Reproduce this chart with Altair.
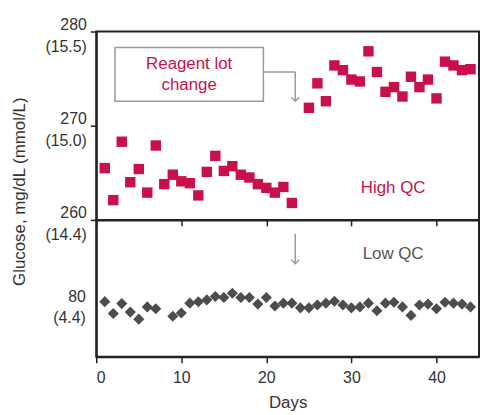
import altair as alt
import pandas as pd

# ---------------- data ----------------
high_days = [1, 2, 3, 4, 5, 6, 7, 8, 9, 10, 11, 12, 13, 14, 15, 16, 17, 18, 19, 20, 21, 22, 23,
             25, 26, 27, 28, 29, 30, 31, 32, 33, 34, 35, 36, 37, 38, 39, 40, 41, 42, 43, 44]
high_vals = [265.5, 262.1, 268.3, 264.0, 265.4, 262.9, 267.9, 263.8, 264.8, 264.1, 263.9, 262.6,
             265.1, 266.8, 265.2, 265.7, 264.8, 264.5, 263.8, 263.4, 262.9, 263.5, 261.8,
             271.9, 274.5, 272.6, 276.4, 275.9, 274.9, 274.7, 277.9, 275.7, 273.6, 274.1, 273.1,
             275.2, 274.1, 274.9, 272.9, 276.8, 276.4, 275.9, 276.0]

low_days = [1, 2, 3, 4, 5, 6, 7, 9, 10, 11, 12, 13, 14, 15, 16, 17, 18, 19, 20, 21, 22, 23, 24,
            25, 26, 27, 28, 29, 30, 31, 32, 33, 34, 35, 36, 37, 38, 39, 40, 41, 42, 43, 44]
low_vals = [80.16, 78.9, 79.95, 79.05, 78.3, 79.6, 79.4, 78.6, 78.95, 80.0, 80.15, 80.35, 80.7,
            80.6, 81.05, 80.6, 80.6, 79.9, 80.6, 79.7, 80.0, 80.0, 79.5, 79.5, 79.8, 80.0, 80.2,
            79.8, 79.5, 79.6, 80.0, 79.2, 80.0, 80.1, 79.6, 78.7, 79.8, 79.9, 79.4, 80.1, 80.0,
            79.9, 79.6]

x_ticks = [0, 10, 20, 30, 40]
high_ticks = [260, 270, 280]
high_mmol = ["14.4", "15.0", "15.5"]
low_ticks = [80]
low_mmol = ["4.4"]

x_domain = [0, 45]
high_domain = [260, 280]
low_domain = [74.3, 88.85]

lot_change_day = 23.4
box_days = [2.2, 19.65]
box_vals = [278.3, 272.6]

CRIMSON = "#C8104B"
DARK = "#4D4D4D"
GRAY = "#9A9A9A"
FONT = "Liberation Sans"


def label_expr(ticks, mmol):
    expr = "''"
    for t, m in reversed(list(zip(ticks, mmol))):
        expr = f"datum.value == {t} ? ['{t}', '({m})'] : {expr}"
    return expr


high_df = pd.DataFrame({"day": high_days, "value": high_vals})
low_df = pd.DataFrame({"day": low_days, "value": low_vals})

xs = alt.Scale(domain=x_domain, nice=False, zero=False)


def top_x(field="day"):
    return alt.X(f"{field}:Q", scale=xs,
                 axis=alt.Axis(values=x_ticks, labels=False, title=None, tickSize=6))


def top_y(field="value"):
    return alt.Y(f"{field}:Q", scale=alt.Scale(domain=high_domain, nice=False, zero=False),
                 axis=alt.Axis(values=high_ticks, labelExpr=label_expr(high_ticks, high_mmol),
                               title="Glucose, mg/dL (mmol/L)", titleX=-77, titleY=161,
                               titleBaseline="middle", titleAlign="center",
                               tickSize=6, labelOffset=-7, labelLineHeight=22))


def bot_x(field="day"):
    return alt.X(f"{field}:Q", scale=xs,
                 axis=alt.Axis(values=x_ticks, title="Days", tickSize=6, labelPadding=7,
                               titlePadding=9))


def bot_y(field="value"):
    return alt.Y(f"{field}:Q", scale=alt.Scale(domain=low_domain, nice=False, zero=False),
                 axis=alt.Axis(values=low_ticks, labelExpr=label_expr(low_ticks, low_mmol),
                               title=None, ticks=False, labelPadding=11, labelOffset=-7,
                               labelLineHeight=22))


# ---- top panel ----
top_pts = alt.Chart(high_df).mark_square(size=110, color=CRIMSON, opacity=1).encode(
    x=top_x(), y=top_y())

box_df = pd.DataFrame({"day": [box_days[0]], "day2": [box_days[1]],
                       "value": [box_vals[0]], "value2": [box_vals[1]]})
box = alt.Chart(box_df).mark_rect(fill="white", stroke=GRAY, strokeWidth=1.5).encode(
    x=top_x(), x2="day2", y=top_y(), y2="value2")

box_text_df = pd.DataFrame({"day": [(box_days[0] + box_days[1]) / 2],
                            "value": [276.5],
                            "label": ["Reagent lot\nchange"]})
box_text = alt.Chart(box_text_df).mark_text(
    lineBreak="\n", fontSize=17, font=FONT, color=CRIMSON, align="center",
    baseline="middle", lineHeight=21).encode(x=top_x(), y=top_y(), text="label")

conn_mid = 275.7
conn_tip = 272.6
hline_df = pd.DataFrame({"day": [box_days[1]], "day2": [lot_change_day], "value": [conn_mid]})
hline = alt.Chart(hline_df).mark_rule(color=GRAY, strokeWidth=1.5).encode(
    x=top_x(), x2="day2", y=top_y())
vline_df = pd.DataFrame({"day": [lot_change_day], "value": [conn_mid], "value2": [conn_tip]})
vline = alt.Chart(vline_df).mark_rule(color=GRAY, strokeWidth=1.5).encode(
    x=top_x(), y=top_y(), y2="value2")
head_df = pd.DataFrame({"day": [lot_change_day], "value": [conn_tip]})
head = alt.Chart(head_df).mark_point(shape="M-1,-1L0,0L1,-1", filled=False, stroke=GRAY,
                                      strokeWidth=1.5, size=64, opacity=1).encode(
    x=top_x(), y=top_y())

high_lbl_df = pd.DataFrame({"day": [34.9], "value": [263.4], "label": ["High QC"]})
high_lbl = alt.Chart(high_lbl_df).mark_text(fontSize=17, font=FONT, color=CRIMSON,
                                            align="center", baseline="middle").encode(
    x=top_x(), y=top_y(), text="label")

top = alt.layer(box, box_text, hline, vline, head, top_pts, high_lbl).properties(
    width=386, height=190)

# ---- bottom panel ----
low_pts = alt.Chart(low_df).mark_point(shape="diamond", filled=True, color=DARK, size=125,
                                       opacity=1).encode(x=bot_x(), y=bot_y())

arrow_top = 87.4
arrow_tip = 84.2
bl_df = pd.DataFrame({"day": [lot_change_day], "value": [arrow_top], "value2": [arrow_tip]})
bline = alt.Chart(bl_df).mark_rule(color=GRAY, strokeWidth=1.5).encode(
    x=bot_x(), y=bot_y(), y2="value2")
bh_df = pd.DataFrame({"day": [lot_change_day], "value": [arrow_tip]})
bhead = alt.Chart(bh_df).mark_point(shape="M-1,-1L0,0L1,-1", filled=False, stroke=GRAY,
                                     strokeWidth=1.5, size=64, opacity=1).encode(
    x=bot_x(), y=bot_y())

low_lbl_df = pd.DataFrame({"day": [34.9], "value": [85.26], "label": ["Low QC"]})
low_lbl = alt.Chart(low_lbl_df).mark_text(fontSize=17, font=FONT, color="#555555",
                                          align="center", baseline="middle").encode(
    x=bot_x(), y=bot_y(), text="label")

bottom = alt.layer(bline, bhead, low_pts, low_lbl).properties(width=386, height=138)

chart = alt.vconcat(top, bottom, spacing=0, bounds="flush").properties(
    padding={"left": 2, "top": 6, "right": 0, "bottom": 0}
).configure_view(
    stroke="#222222", strokeWidth=2
).configure_axis(
    grid=False, domainColor="#222222", domainWidth=2, tickColor="#222222", tickWidth=1.5,
    labelFont=FONT, labelFontSize=16, labelColor="#333333", labelPadding=4,
    titleFont=FONT, titleFontSize=17, titleFontWeight="normal", titleColor="#333333"
)

chart.save("out.html", embed_options={"renderer": "svg", "actions": False})
